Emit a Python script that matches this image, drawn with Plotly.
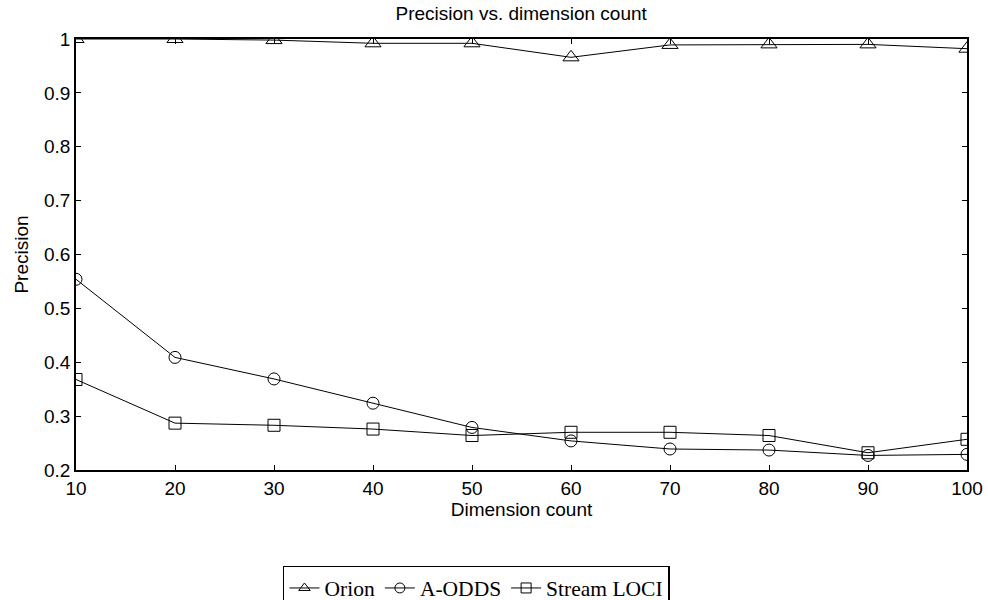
import plotly.graph_objects as go

dims = [10, 20, 30, 40, 50, 60, 70, 80, 90, 100]
orion = [1.0, 1.0, 0.998, 0.992, 0.992, 0.966, 0.989, 0.990, 0.990, 0.982]
aodds = [0.554, 0.409, 0.369, 0.324, 0.279, 0.254, 0.239, 0.237, 0.227, 0.229]
stream_loci = [0.368, 0.287, 0.283, 0.276, 0.264, 0.270, 0.270, 0.264, 0.232, 0.257]

x_ticks = [10, 20, 30, 40, 50, 60, 70, 80, 90, 100]
y_ticks = [0.2, 0.3, 0.4, 0.5, 0.6, 0.7, 0.8, 0.9, 1.0]
y_ticklabels = ["0.2", "0.3", "0.4", "0.5", "0.6", "0.7", "0.8", "0.9", "1"]

series = [
    ("Orion", orion, "triangle-up-open", 14),
    ("A-ODDS", aodds, "circle-open", 12),
    ("Stream LOCI", stream_loci, "square-open", 12),
]

SANS = "Liberation Sans, Arial"
FS = 19
fig = go.Figure()
for name, vals, sym, sz in series:
    fig.add_trace(go.Scatter(
        x=dims, y=vals, name=name, mode="lines+markers", showlegend=False,
        line=dict(color="black", width=1),
        marker=dict(symbol=sym, size=sz, color="black", line=dict(width=1, color="black")),
    ))
# legend entries (smaller markers, as in the reference legend)
for name, vals, sym, sz in series:
    fig.add_trace(go.Scatter(
        x=[None], y=[None], name=name, mode="lines+markers", showlegend=True,
        line=dict(color="black", width=1),
        marker=dict(symbol=sym, size=10, color="black", line=dict(width=1, color="black")),
    ))

axis_common = dict(
    showline=True, linecolor="black", linewidth=1.5, mirror="allticks",
    ticks="inside", ticklen=5, tickcolor="black", tickwidth=1,
    showgrid=False, zeroline=False, automargin=False,
    tickfont=dict(family=SANS, size=FS, color="black"),
)

fig.update_layout(
    width=988, height=600,
    margin=dict(l=76, r=21, t=39, b=130, autoexpand=False),
    paper_bgcolor="white", plot_bgcolor="white",
    title=dict(text="Precision vs. dimension count", x=0.5275, xanchor="center", y=0.977, yanchor="middle",
               font=dict(family=SANS, size=FS, color="black")),
    xaxis=dict(range=[10, 100], tickvals=x_ticks,
               title=dict(text="Dimension count", standoff=0, font=dict(family=SANS, size=FS, color="black")),
               **axis_common),
    yaxis=dict(range=[0.2, 1.0], tickvals=y_ticks, ticktext=y_ticklabels,
               title=dict(text="Precision", standoff=10, font=dict(family=SANS, size=FS, color="black")),
               **axis_common),
    showlegend=True,
    legend=dict(orientation="h", x=0.2323, xanchor="left", y=-0.2227, yanchor="top",
                bordercolor="black", borderwidth=1.5, bgcolor="white",
                font=dict(family="Liberation Serif, Times New Roman", size=21.5, color="black"),
                itemwidth=30, tracegroupgap=0),
)

fig.write_html("out.html", config={"displayModeBar": False},
               post_script="document.body.style.margin='0px';")
